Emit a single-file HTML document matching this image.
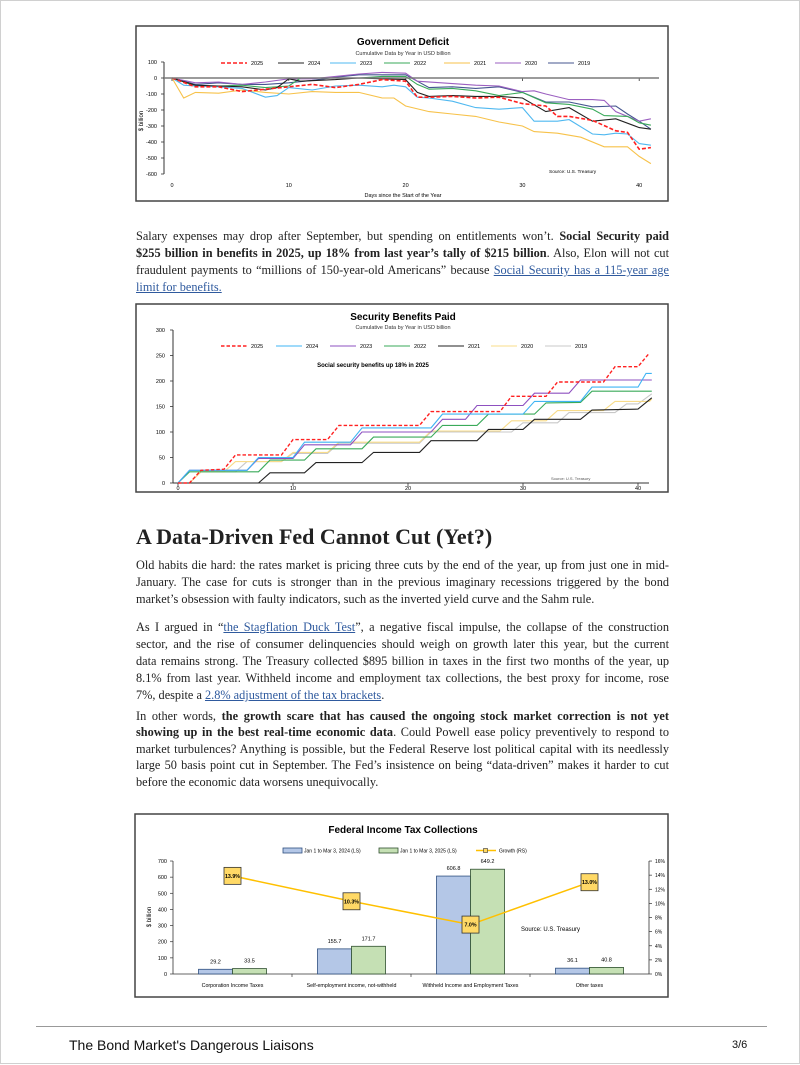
<!DOCTYPE html>
<html><head><meta charset="utf-8">
<style>
html,body{margin:0;padding:0;background:#fff;}
body{width:800px;height:1064px;position:relative;overflow:hidden;border:1px solid #d0d0d0;box-sizing:border-box;}
.p{position:absolute;left:135px;width:533px;font-family:"Liberation Serif",serif;font-size:12.3px;color:#222;}
.l{display:block;white-space:nowrap;text-align:justify;text-align-last:justify;height:17px;line-height:17px;}
.l.last{text-align-last:left;}
a{color:#2f5a9e;text-decoration:underline;}
b{font-weight:bold;}
h2{position:absolute;left:135px;top:523px;margin:0;font-family:"Liberation Serif",serif;font-size:22px;font-weight:bold;color:#222;}
svg text{font-family:"Liberation Sans",sans-serif;}
</style></head><body>
<svg id="charts" width="800" height="1064" style="position:absolute;left:0;top:0">
  <g id="c1">
    <rect x="135" y="25" width="532" height="175" fill="#fff" stroke="#444" stroke-width="1.5"/>
    <text x="402" y="44" text-anchor="middle" font-size="10" font-weight="bold">Government Deficit</text>
    <text x="402" y="54" text-anchor="middle" font-size="5.5" fill="#333">Cumulative Data by Year in USD billion</text>
    <text x="142" y="120" font-size="6" transform="rotate(-90 142 120)" text-anchor="middle">$ billion</text>
    <text x="402" y="196" text-anchor="middle" font-size="5.5">Days since the Start of the Year</text>
    <text x="548" y="172" font-size="4.8">Source: U.S. Treasury</text>
  </g>
  <g id="c2">
    <rect x="135" y="303" width="532" height="188" fill="#fff" stroke="#444" stroke-width="1.5"/>
    <text x="402" y="319" text-anchor="middle" font-size="10" font-weight="bold">Security Benefits Paid</text>
    <text x="402" y="328" text-anchor="middle" font-size="5.5" fill="#333">Cumulative Data by Year in USD billion</text>
    <text x="372" y="366" text-anchor="middle" font-size="6" font-weight="bold">Social security benefits up 18% in 2025</text>
    <text x="550" y="479" font-size="4" fill="#555">Source: U.S. Treasury</text>
  </g>
  <g id="c3">
    <rect x="134" y="813" width="533" height="183" fill="#fff" stroke="#444" stroke-width="1.5"/>
    <text x="402" y="832" text-anchor="middle" font-size="10" font-weight="bold">Federal Income Tax Collections</text>
    <text x="150" y="916" font-size="6" transform="rotate(-90 150 916)" text-anchor="middle">$ billion</text>
    <text x="520" y="930" font-size="6">Source: U.S. Treasury</text>
  </g>
</svg>

<div class="p" style="top:227px">
<span class="l">Salary expenses may drop after September, but spending on entitlements won’t. <b>Social Security paid</b></span>
<span class="l"><b>$255 billion in benefits in 2025, up 18% from last year’s tally of $215 billion</b>. Also, Elon will not cut</span>
<span class="l">fraudulent payments to “millions of 150-year-old Americans” because <a href="#">Social Security has a 115-year age</a></span>
<span class="l last"><a href="#">limit for benefits.</a></span>
</div>

<h2>A Data-Driven Fed Cannot Cut (Yet?)</h2>

<div class="p" style="top:556px">
<span class="l">Old habits die hard: the rates market is pricing three cuts by the end of the year, up from just one in mid-</span>
<span class="l">January. The case for cuts is stronger than in the previous imaginary recessions triggered by the bond</span>
<span class="l last">market’s obsession with faulty indicators, such as the inverted yield curve and the Sahm rule.</span>
</div>

<div class="p" style="top:618px">
<span class="l">As I argued in “<a href="#">the Stagflation Duck Test</a>”, a negative fiscal impulse, the collapse of the construction</span>
<span class="l">sector, and the rise of consumer delinquencies should weigh on growth later this year, but the current</span>
<span class="l">data remains strong. The Treasury collected $895 billion in taxes in the first two months of the year, up</span>
<span class="l">8.1% from last year. Withheld income and employment tax collections, the best proxy for income, rose</span>
<span class="l last">7%, despite a <a href="#">2.8% adjustment of the tax brackets</a>.</span>
</div>

<div class="p" style="top:707px">
<span class="l" style="height:16.4px;line-height:16.4px">In other words, <b>the growth scare that has caused the ongoing stock market correction is not yet</b></span>
<span class="l" style="height:16.4px;line-height:16.4px"><b>showing up in the best real-time economic data</b>. Could Powell ease policy preventively to respond to</span>
<span class="l" style="height:16.4px;line-height:16.4px">market turbulences? Anything is possible, but the Federal Reserve lost political capital with its needlessly</span>
<span class="l" style="height:16.4px;line-height:16.4px">large 50 basis point cut in September. The Fed’s insistence on being “data-driven” makes it harder to cut</span>
<span class="l last" style="height:16.4px;line-height:16.4px">before the economic data worsens unequivocally.</span>
</div>

<div style="position:absolute;left:35px;top:1025px;width:731px;height:1px;background:#999"></div>
<div style="position:absolute;left:68px;top:1036px;font-family:'Liberation Sans',sans-serif;font-size:14px;color:#111">The Bond Market's Dangerous Liaisons</div>
<div style="position:absolute;left:731px;top:1038px;font-family:'Liberation Sans',sans-serif;font-size:11px;color:#111">3/6</div>

<script>
// ---------- Chart 1 data: Government Deficit ----------
const c1Years = ["2025","2024","2023","2022","2021","2020","2019"];
const c1Colors = ["#ff2020","#222222","#4fb8f0","#3aaa5a","#f7c24a","#9b5fc0","#44558f"];
const c1Days2025 = [0,2,4,6,8,10,12,14,16,18,20,21,22,24,26,28,30,32,33,34,36,38,39,40,41];
const c1Vals2025 = [0,-55,-55,-85,-70,-55,-40,-60,-40,-10,-20,-120,-120,-115,-125,-120,-160,-175,-240,-240,-265,-330,-340,-445,-435];
const c1Days2024 = [0,2,4,6,8,9,10,11,14,16,18,20,21,22,24,26,28,30,32,34,36,38,40,41];
const c1Vals2024 = [0,-45,-50,-55,-75,-60,-5,-20,-10,0,-5,-10,-90,-115,-110,-115,-115,-125,-210,-185,-270,-255,-310,-320];
const c1Days2023 = [0,1,2,4,6,8,9,10,12,14,16,18,19,20,21,22,24,26,28,30,31,33,34,36,37,38,39,40,41];
const c1Vals2023 = [0,-45,-50,-55,-65,-120,-110,-60,-75,-50,-45,-55,-45,-55,-120,-125,-145,-185,-195,-185,-270,-270,-260,-350,-355,-345,-350,-410,-420];
const c1Days2022 = [0,2,4,6,8,10,11,14,16,18,20,21,22,24,26,28,30,32,34,36,37,39,40,41];
const c1Vals2022 = [0,-50,-50,-45,-60,-50,0,0,0,10,10,-40,-70,-65,-80,-110,-90,-155,-165,-195,-235,-240,-280,-295];
const c1Days2021 = [0,1,2,4,6,8,10,12,14,16,18,19,20,22,24,26,28,30,31,33,35,37,39,40,41];
const c1Vals2021 = [0,-125,-90,-95,-75,-90,-100,-85,-90,-90,-125,-125,-175,-210,-225,-240,-275,-300,-335,-345,-370,-430,-430,-490,-535];
const c1Days2020 = [0,2,4,6,8,10,12,14,16,18,20,21,24,26,28,30,31,32,34,36,37,38,40,41];
const c1Vals2020 = [0,-30,-25,-40,-25,-5,-5,10,25,35,30,-20,-35,-45,-50,-85,-80,-100,-135,-135,-140,-210,-270,-255];
const c1Days2019 = [0,2,4,6,8,10,12,14,16,18,20,21,22,24,26,28,30,32,34,36,38,39,40,41];
const c1Vals2019 = [0,-40,-30,-40,-40,-30,-15,5,20,20,20,-20,-60,-55,-65,-55,-90,-150,-150,-180,-175,-225,-270,-320];
const c1YTicks = [100,0,-100,-200,-300,-400,-500,-600];
const c1XTicks = [0,10,20,30,40];

// ---------- Chart 2 data: Security Benefits Paid ----------
const c2Years = ["2025","2024","2023","2022","2021","2020","2019"];
const c2Colors = ["#ff2020","#3fb4f4","#8e50c0","#3aaa5a","#222222","#f8dc8a","#c8c8c8"];
const c2Days2025 = [0,1,2,4,5,9,10,13,14,21,22,28,29,32,33,37,38,40,41];
const c2Vals2025 = [0,0,25,27,55,55,85,85,113,113,140,140,170,170,198,198,228,228,255];
const c2Days2024 = [0,1,6,7,10,11,15,16,22,23,30,31,35,36,40,40.7,41.2];
const c2Vals2024 = [0,25,25,50,50,80,80,108,108,135,135,160,160,188,188,215,215];
const c2Days2023 = [0,1,6,7,10,11,15,16,22,23,25,26,30,31,34,35,41.2];
const c2Vals2023 = [0,25,25,48,48,75,75,100,100,125,125,152,152,176,176,202,202];
const c2Days2022 = [0,1,7,8,11,12,16,17,22,23,26,27,31,32,35,36,41.2];
const c2Vals2022 = [0,22,22,45,45,67,67,90,90,113,113,135,135,157,158,180,180];
const c2Days2021 = [0,7,8,11,12,16,17,21,22,26,27,30,31,35,36,40,41.2];
const c2Vals2021 = [0,0,20,20,40,40,60,60,83,83,105,105,125,125,143,145,167];
const c2Days2020 = [1,2,4,5,9,10,13,14,21,22,28,29,32,33,37,38,41,41.2];
const c2Vals2020 = [0,22,22,42,42,60,60,80,80,102,102,122,122,142,142,160,160,165];
const c2Days2019 = [0,1,2,5,6,9,10,13,14,21,22,29,30,33,34,38,39,40,41.2];
const c2Vals2019 = [0,0,22,22,42,42,58,58,78,78,100,100,118,118,138,138,155,155,175];
const c2YTicks = [0,50,100,150,200,250,300];
const c2XTicks = [0,10,20,30,40];

// ---------- Chart 3 data: Federal Income Tax Collections ----------
const c3Categories = ["Corporation Income Taxes","Self-employment income, not-withheld","Withheld Income and Employment Taxes","Other taxes"];
const c3Vals2024 = [29.2,155.7,606.8,36.1];
const c3Vals2025 = [33.5,171.7,649.2,40.8];
const c3Growth = [13.9,10.3,7.0,13.0];
const c3YTicks = [0,100,200,300,400,500,600,700];
const c3RTicks = [0,2,4,6,8,10,12,14,16];

const NS = "http://www.w3.org/2000/svg";
function mk(parent, tag, attrs, txt){
  const e = document.createElementNS(NS, tag);
  for (const k in attrs) e.setAttribute(k, attrs[k]);
  if (txt !== undefined) e.textContent = txt;
  parent.appendChild(e);
  return e;
}

// ===== Chart 1 =====
(function(){
  const g = document.getElementById("c1");
  const x = d => 171 + d * 11.68;
  const y = v => 77 - v * 0.16;
  const ax = mk(g, "line", {x1:163, y1:y(100), x2:163, y2:y(-600), stroke:"#333", "stroke-width":1});
  
  
  c1YTicks.forEach(v => {
    mk(g, "line", {x1:160, y1:y(v), x2:163, y2:y(v), stroke:"#333", "stroke-width":0.8});
    const t = mk(g, "text", {x:156, y:y(v)+2, "text-anchor":"end", "font-size":5.5}, v);
    
    
  });
  c1XTicks.forEach(d => {
    const t = mk(g, "text", {x:x(d), y:186, "text-anchor":"middle", "font-size":5.5}, d);
    
    
    mk(g, "line", {x1:x(d), y1:y(0), x2:x(d), y2:y(0)+3, stroke:"#333", "stroke-width":0.8});
  });
  const days = [c1Days2025,c1Days2024,c1Days2023,c1Days2022,c1Days2021,c1Days2020,c1Days2019];
  const vals = [c1Vals2025,c1Vals2024,c1Vals2023,c1Vals2022,c1Vals2021,c1Vals2020,c1Vals2019];
  for (let s = c1Years.length-1; s >= 0; s--) {
    const pts = days[s].map((d,i) => x(d).toFixed(1)+","+y(vals[s][i]).toFixed(1)).join(" ");
    const pl = mk(g, "polyline", {points:pts, fill:"none", stroke:c1Colors[s], "stroke-width": s===0?1.6:1.1, "stroke-dasharray": s===0?"4,2":"none"});
    
    
  }
  const zl = mk(g, "line", {x1:163, y1:y(0), x2:658, y2:y(0), stroke:"#7a7a7a", "stroke-width":1.6});
  
  
  const legX = [220,277,329,383,443,494,547];
  c1Years.forEach((yr,i) => {
    const l = mk(g, "line", {x1:legX[i], y1:62, x2:legX[i]+26, y2:62, stroke:c1Colors[i], "stroke-width":i===0?1.6:1.1, "stroke-dasharray":i===0?"4,2":"none"});
    
    
    const t = mk(g, "text", {x:legX[i]+30, y:64, "font-size":5.5}, yr);
    
    
  });
})();

// ===== Chart 2 =====
(function(){
  const g = document.getElementById("c2");
  const x = d => 177 + d * 11.5;
  const y = v => 482 - v * 0.51;
  const ay = mk(g, "line", {x1:172, y1:y(300), x2:172, y2:y(0), stroke:"#333", "stroke-width":1});
  
  
  const axl = mk(g, "line", {x1:172, y1:y(0), x2:648, y2:y(0), stroke:"#333", "stroke-width":1});
  
  
  c2YTicks.forEach(v => {
    mk(g, "line", {x1:169, y1:y(v), x2:172, y2:y(v), stroke:"#333", "stroke-width":0.8});
    const t = mk(g, "text", {x:164, y:y(v)+2, "text-anchor":"end", "font-size":5.5}, v);
    
    
  });
  c2XTicks.forEach(d => {
    mk(g, "line", {x1:x(d), y1:y(0), x2:x(d), y2:y(0)+3, stroke:"#333", "stroke-width":0.8});
    const t = mk(g, "text", {x:x(d), y:489, "text-anchor":"middle", "font-size":5.5}, d);
    
    
  });
  const days = [c2Days2025,c2Days2024,c2Days2023,c2Days2022,c2Days2021,c2Days2020,c2Days2019];
  const vals = [c2Vals2025,c2Vals2024,c2Vals2023,c2Vals2022,c2Vals2021,c2Vals2020,c2Vals2019];
  for (let s = c2Years.length-1; s >= 0; s--) {
    const pts = days[s].map((d,i) => x(d).toFixed(1)+","+y(vals[s][i]).toFixed(1)).join(" ");
    const pl = mk(g, "polyline", {points:pts, fill:"none", stroke:c2Colors[s], "stroke-width": s===0?1.4:1.1, "stroke-dasharray": s===0?"3.5,2":"none"});
    
    
  }
  const legX = [220,275,329,383,437,490,544];
  c2Years.forEach((yr,i) => {
    const l = mk(g, "line", {x1:legX[i], y1:345, x2:legX[i]+26, y2:345, stroke:c2Colors[i], "stroke-width":i===0?1.4:1.1, "stroke-dasharray":i===0?"3.5,2":"none"});
    
    
    const t = mk(g, "text", {x:legX[i]+30, y:347, "font-size":5.5}, yr);
    
    
  });
})();

// ===== Chart 3 =====
(function(){
  const g = document.getElementById("c3");
  const x0 = 172, x1 = 648;
  const band = (x1 - x0) / c3Categories.length;
  const cx = i => x0 + band * (i + 0.5);
  const yb = v => 973 - v * 0.1614;
  const yr = p => 973 - p * 7.06;
  const a1 = mk(g, "line", {x1:x0, y1:yb(700), x2:x0, y2:yb(0), stroke:"#333", "stroke-width":0.8});
  
  
  const a2 = mk(g, "line", {x1:x1, y1:yr(16), x2:x1, y2:yr(0), stroke:"#333", "stroke-width":0.8});
  
  
  const a3 = mk(g, "line", {x1:x0, y1:yb(0), x2:x1, y2:yb(0), stroke:"#333", "stroke-width":0.8});
  
  
  c3YTicks.forEach(v => {
    mk(g, "line", {x1:x0-3, y1:yb(v), x2:x0, y2:yb(v), stroke:"#333", "stroke-width":0.7});
    const t = mk(g, "text", {x:x0-6, y:yb(v)+2, "text-anchor":"end", "font-size":5.5}, v);
    
    
  });
  c3RTicks.forEach(p => {
    mk(g, "line", {x1:x1, y1:yr(p), x2:x1+3, y2:yr(p), stroke:"#333", "stroke-width":0.7});
    const t = mk(g, "text", {x:x1+6, y:yr(p)+2, "font-size":5, "text-anchor":"start"}, p + "%");
    
    
  });
  for (let i = 1; i < c3Categories.length; i++) {
    mk(g, "line", {x1:x0+band*i, y1:yb(0), x2:x0+band*i, y2:yb(0)+3, stroke:"#333", "stroke-width":0.7});
  }
  const bw = 34;
  c3Categories.forEach((c,i) => {
    const b1 = mk(g, "rect", {x:cx(i)-bw, y:yb(c3Vals2024[i]), width:bw, height:yb(0)-yb(c3Vals2024[i]), fill:"#b4c7e7", stroke:"#2f4f7f", "stroke-width":0.8});
    
    
    const b2 = mk(g, "rect", {x:cx(i), y:yb(c3Vals2025[i]), width:bw, height:yb(0)-yb(c3Vals2025[i]), fill:"#c5e0b4", stroke:"#2f4f2f", "stroke-width":0.8});
    
    
    const t1 = mk(g, "text", {x:cx(i)-bw/2, y:yb(c3Vals2024[i])-6, "text-anchor":"middle", "font-size":5.5}, c3Vals2024[i].toFixed(1));
    
    
    const t2 = mk(g, "text", {x:cx(i)+bw/2, y:yb(c3Vals2025[i])-6, "text-anchor":"middle", "font-size":5.5}, c3Vals2025[i].toFixed(1));
    
    
    const cl = mk(g, "text", {x:cx(i), y:986, "text-anchor":"middle", "font-size":5.3}, c);
    
    
  });
  const pts = c3Growth.map((p,i) => cx(i)+","+yr(p)).join(" ");
  const gl = mk(g, "polyline", {points:pts, fill:"none", stroke:"#ffc000", "stroke-width":1.5});
  
  
  c3Growth.forEach((p,i) => {
    const m = mk(g, "rect", {x:cx(i)-8.5, y:yr(p)-8.5, width:17, height:17, fill:"#ffd966", stroke:"#333", "stroke-width":0.8});
    
    
    const t = mk(g, "text", {x:cx(i), y:yr(p)+2, "text-anchor":"middle", "font-size":5.3, "font-weight":"bold"}, p.toFixed(1) + "%");
    
    
  });
  const r1 = mk(g, "rect", {x:282, y:847, width:19, height:5, fill:"#b4c7e7", stroke:"#2f4f7f", "stroke-width":0.8});
  
  
  const l1 = mk(g, "text", {x:303, y:851.5, "font-size":5}, "Jan 1 to Mar 3, 2024 (LS)");
  
  
  const r2 = mk(g, "rect", {x:378, y:847, width:19, height:5, fill:"#c5e0b4", stroke:"#2f4f2f", "stroke-width":0.8});
  
  
  const l2 = mk(g, "text", {x:399, y:851.5, "font-size":5}, "Jan 1 to Mar 3, 2025 (LS)");
  
  
  const r3 = mk(g, "line", {x1:475, y1:849.5, x2:495, y2:849.5, stroke:"#ffc000", "stroke-width":1.5});
  
  
  mk(g, "rect", {x:482.5, y:847.5, width:4, height:4, fill:"#ffd966", stroke:"#333", "stroke-width":0.6});
  const l3 = mk(g, "text", {x:498, y:851.5, "font-size":5}, "Growth (RS)");
  
  
})();
</script>
</body></html>
